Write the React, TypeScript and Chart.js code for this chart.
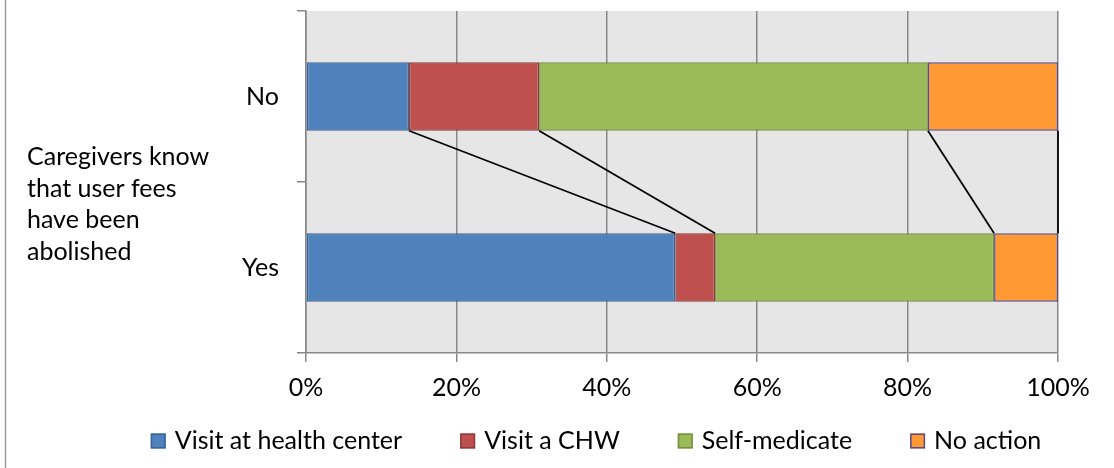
import React, { useEffect, useRef } from 'react';
import { Chart, registerables } from 'chart.js';

Chart.register(...registerables);

// ---- Data ----
const categories = ['No', 'Yes'];
const seriesNames = ['Visit at health center', 'Visit a CHW', 'Self-medicate', 'No action'];
const healthCenter = [13.7, 49.1];
const visitChw = [17.3, 5.3];
const selfMedicate = [51.7, 37.1];
const noAction = [17.3, 8.5];
const xTickValues = [0, 20, 40, 60, 80, 100];
const axisTitleLines = ['Caregivers know', 'that user fees', 'have been', 'abolished'];

const fills = ['#4f81bd', '#c0504d', '#9bbb59', '#ff9933'];
const borders = ['#3a659b', '#8f3b39', '#75903f', '#5f4a86'];

const FONT = 'Lato, "Open Sans", sans-serif';
const FONT_SIZE = 25;
const GRID = '#888888';

const decor = {
  id: 'excelDecor',
  beforeDraw(chart: any) {
    const { ctx, chartArea: a } = chart;
    ctx.save();
    ctx.fillStyle = '#e6e6e6';
    ctx.fillRect(a.left, a.top, a.right - a.left, a.bottom - a.top);
    ctx.strokeStyle = '#9a9a9a';
    ctx.lineWidth = 1.5;
    ctx.beginPath();
    ctx.moveTo(5.5, 0);
    ctx.lineTo(5.5, chart.height);
    ctx.stroke();
    ctx.restore();
  },
  afterDatasetsDraw(chart: any) {
    const ctx = chart.ctx;
    ctx.save();
    ctx.strokeStyle = '#000';
    ctx.lineWidth = 1.75;
    chart.data.datasets.forEach((_ds: any, i: number) => {
      const els = chart.getDatasetMeta(i).data;
      for (let k = 0; k < els.length - 1; k++) {
        const p = els[k].getProps(['x', 'y', 'height'], true);
        const q = els[k + 1].getProps(['x', 'y', 'height'], true);
        ctx.beginPath();
        ctx.moveTo(p.x, p.y + p.height / 2);
        ctx.lineTo(q.x, q.y - q.height / 2);
        ctx.stroke();
      }
    });
    ctx.restore();
  },
  afterDraw(chart: any) {
    const ctx = chart.ctx;
    ctx.save();
    ctx.font = `${FONT_SIZE}px ${FONT}`;
    ctx.fillStyle = '#000';
    ctx.textAlign = 'left';
    ctx.textBaseline = 'alphabetic';
    axisTitleLines.forEach((line, i) => {
      ctx.fillText(line, 27, 165 + i * 31.5);
    });

    // legend
    const box = 15;
    const boxGap = 9;
    const itemGap = 58;
    const widths = chart.data.datasets.map((ds: any) => ctx.measureText(ds.label).width);
    const total = widths.reduce((s: number, w: number) => s + box + boxGap + w, 0) + itemGap * (widths.length - 1);
    let x = 596 - total / 2;
    const cy = 441;
    chart.data.datasets.forEach((ds: any, i: number) => {
      ctx.fillStyle = ds.backgroundColor;
      ctx.fillRect(x, cy - box / 2, box, box);
      ctx.strokeStyle = ds.borderColor;
      ctx.lineWidth = 1.5;
      ctx.strokeRect(x + 0.75, cy - box / 2 + 0.75, box - 1.5, box - 1.5);
      ctx.fillStyle = '#000';
      ctx.textBaseline = 'middle';
      ctx.fillText(ds.label, x + box + boxGap, cy);
      x += box + boxGap + widths[i] + itemGap;
    });
    ctx.restore();
  },
};

export default function App() {
  const ref = useRef<HTMLCanvasElement | null>(null);

  useEffect(() => {
    if (!ref.current) return;
    const seriesData = [healthCenter, visitChw, selfMedicate, noAction];
    const chart = new Chart(ref.current, {
      type: 'bar',
      data: {
        labels: categories,
        datasets: seriesData.map((d, i) => ({
          label: seriesNames[i],
          data: d,
          backgroundColor: fills[i],
          borderColor: borders[i],
          borderWidth: 1.5,
          borderSkipped: false,
          barPercentage: 0.4,
          categoryPercentage: 1.0,
        })),
      },
      options: {
        animation: false,
        responsive: false,
        devicePixelRatio: 1,
        indexAxis: 'y',
        layout: { padding: { top: 11, right: 56, left: 0, bottom: 0 } },
        plugins: {
          legend: { display: false },
          tooltip: { enabled: false },
        },
        scales: {
          x: {
            stacked: true,
            min: 0,
            max: 100,
            afterBuildTicks: (s: any) => {
              s.ticks = xTickValues.map((v) => ({ value: v }));
            },
            ticks: {
              callback: (v: any) => `${v}%`,
              font: { family: FONT, size: FONT_SIZE },
              color: '#000',
              padding: 11,
              maxRotation: 0,
            },
            grid: { color: GRID, lineWidth: 1.5, tickLength: 9 },
            border: { color: GRID, width: 1.5 },
            afterFit: (s: any) => {
              s.height = 115;
              s.paddingLeft = 0;
              s.paddingRight = 0;
            },
          },
          y: {
            stacked: true,
            ticks: {
              font: { family: FONT, size: FONT_SIZE },
              color: '#000',
              padding: 18,
            },
            grid: { drawOnChartArea: false, offset: true, tickLength: 9, color: GRID, lineWidth: 1.5 },
            border: { color: GRID, width: 1.5 },
            afterFit: (s: any) => {
              s.width = 306;
              s.paddingTop = 0;
              s.paddingBottom = 0;
            },
          },
        },
      },
      plugins: [decor],
    });
    return () => chart.destroy();
  }, []);

  return (
    <div style={{ position: 'absolute', left: 0, top: 0, width: 1114, height: 468, background: '#fff' }}>
      <canvas ref={ref} width={1114} height={468} style={{ display: 'block' }} />
    </div>
  );
}
